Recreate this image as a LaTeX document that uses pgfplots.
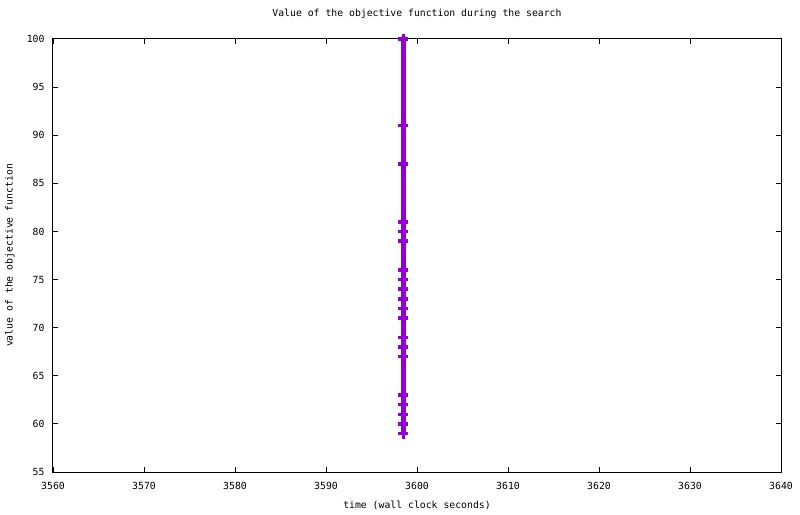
\documentclass[border=0pt]{standalone}
\usepackage{fontspec}
\setmainfont{DejaVu Sans Mono}
\usepackage{pgfplots}
\pgfplotsset{compat=1.18}

\definecolor{gpviolet}{HTML}{9400D3}

\begin{document}
\begin{tikzpicture}[font=\fontsize{9.8bp}{11bp}\selectfont]
\begin{axis}[
    name=ax,
    scale only axis,
    width=728bp,
    height=433bp,
    xmin=3560, xmax=3640,
    ymin=55, ymax=100,
    xtick distance=10,
    ytick distance=5,
    tick align=inside,
    major tick length=5bp,
    every tick/.style={black, line width=1bp},
    axis line style={line width=1bp},
    /pgf/number format/assume math mode=true,
    /pgf/number format/1000 sep={},
    title={Value of the objective function during the search},
    title style={at={(axis description cs:0.5,1.0439)}, anchor=center},
    xlabel={time (wall clock seconds)},
    xlabel style={at={(axis description cs:0.5,-0.0762)}, anchor=center},
    ylabel={value of the objective function},
    ylabel style={at={(axis description cs:-0.0591,0.5)}, anchor=center},
    xticklabel style={anchor=center, yshift=-14bp},
    yticklabel style={anchor=east, xshift=-5bp},
    clip=false,
]
\addplot[gpviolet, line width=4.5bp, mark=+, mark size=5bp,
    mark options={line width=3.5bp}] coordinates {
    (3598.5,100) (3598.5,91) (3598.5,87) (3598.5,81) (3598.5,80)
    (3598.5,79) (3598.5,76) (3598.5,75) (3598.5,74) (3598.5,73)
    (3598.5,72) (3598.5,71) (3598.5,69) (3598.5,68) (3598.5,67)
    (3598.5,63) (3598.5,62) (3598.5,61) (3598.5,60) (3598.5,59)
};
\end{axis}
\pgfresetboundingbox
\path[use as bounding box] ([xshift=-53bp,yshift=-42bp]ax.south west)
    rectangle ([xshift=19bp,yshift=39bp]ax.north east);
\end{tikzpicture}
\end{document}
